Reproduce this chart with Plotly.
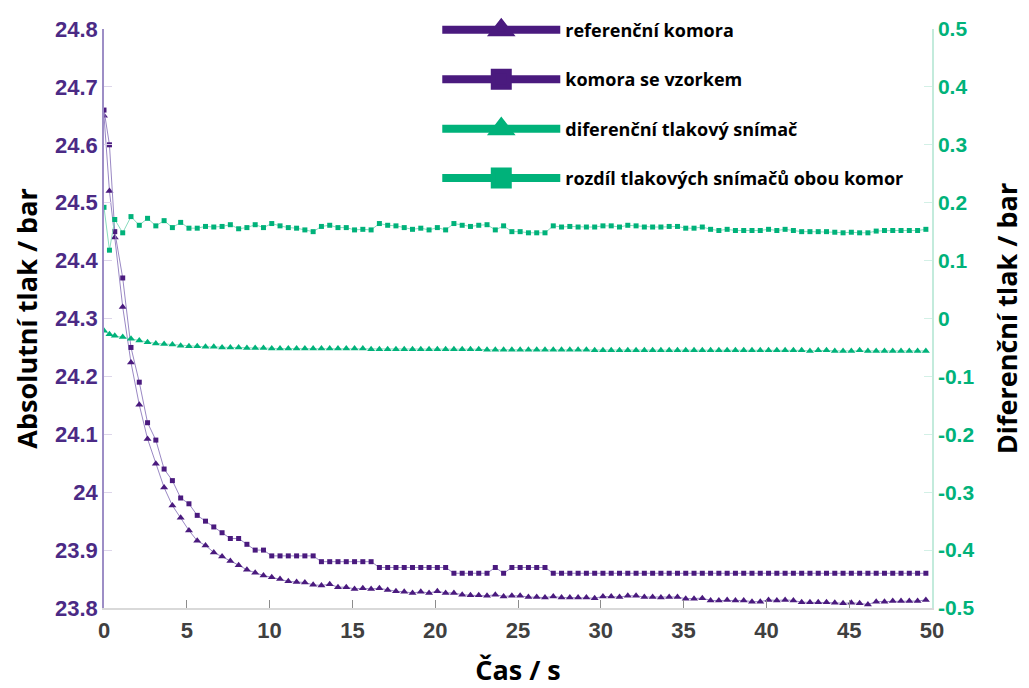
import plotly.graph_objects as go

# ---------------- data ----------------
time_s = [0, 0.33, 0.65, 1.13, 1.63, 2.13, 2.63, 3.13, 3.63, 4.13, 4.63, 5.13, 5.63, 6.13, 6.63,
          7.13, 7.63, 8.13, 8.63, 9.13, 9.63, 10.13, 10.63, 11.13, 11.63, 12.13, 12.63, 13.13,
          13.63, 14.13, 14.63, 15.13, 15.63, 16.13, 16.63, 17.13, 17.63, 18.13, 18.63, 19.13,
          19.63, 20.13, 20.63, 21.13, 21.63, 22.13, 22.63, 23.13, 23.63, 24.13, 24.63, 25.13,
          25.63, 26.13, 26.63, 27.13, 27.63, 28.13, 28.63, 29.13, 29.63, 30.13, 30.63, 31.13,
          31.63, 32.13, 32.63, 33.13, 33.63, 34.13, 34.63, 35.13, 35.63, 36.13, 36.63, 37.13,
          37.63, 38.13, 38.63, 39.13, 39.63, 40.13, 40.63, 41.13, 41.63, 42.13, 42.63, 43.13,
          43.63, 44.13, 44.63, 45.13, 45.63, 46.13, 46.63, 47.13, 47.63, 48.13, 48.63, 49.13,
          49.63]

ref_chamber = [24.65, 24.52, 24.44, 24.32, 24.224, 24.151, 24.092, 24.049, 24.008, 23.977, 23.956,
               23.934, 23.916, 23.908, 23.896, 23.889, 23.881, 23.874, 23.866, 23.861, 23.856,
               23.853, 23.850, 23.846, 23.845, 23.844, 23.840, 23.839, 23.841, 23.836, 23.836,
               23.833, 23.834, 23.833, 23.834, 23.831, 23.829, 23.828, 23.826, 23.828, 23.826,
               23.829, 23.826, 23.826, 23.823, 23.822, 23.822, 23.821, 23.823, 23.820, 23.821,
               23.821, 23.819, 23.819, 23.818, 23.820, 23.818, 23.818, 23.818, 23.818, 23.817,
               23.820, 23.820, 23.819, 23.821, 23.821, 23.819, 23.819, 23.818, 23.819, 23.819,
               23.816, 23.816, 23.817, 23.813, 23.813, 23.814, 23.813, 23.813, 23.811, 23.811,
               23.814, 23.813, 23.814, 23.813, 23.810, 23.810, 23.810, 23.810, 23.809, 23.808,
               23.809, 23.808, 23.806, 23.811, 23.811, 23.812, 23.812, 23.812, 23.812, 23.814]

sample_chamber = [24.66, 24.60, 24.45, 24.37, 24.25, 24.19, 24.12, 24.09, 24.04, 24.02, 23.99,
                  23.98, 23.96, 23.95, 23.94, 23.93, 23.92, 23.92, 23.91, 23.90, 23.90,
                  23.89, 23.89, 23.89, 23.89, 23.89, 23.89,
                  23.88, 23.88, 23.88, 23.88, 23.88, 23.88, 23.88,
                  23.87, 23.87, 23.87, 23.87, 23.87, 23.87, 23.87, 23.87, 23.87,
                  23.86, 23.86, 23.86, 23.86, 23.86,
                  23.87, 23.86,
                  23.87, 23.87, 23.87, 23.87, 23.87,
                  23.86, 23.86, 23.86, 23.86, 23.86, 23.86, 23.86, 23.86, 23.86, 23.86,
                  23.86, 23.86, 23.86, 23.86, 23.86, 23.86, 23.86, 23.86, 23.86, 23.86,
                  23.86, 23.86, 23.86, 23.86, 23.86, 23.86, 23.86, 23.86, 23.86, 23.86,
                  23.86, 23.86, 23.86, 23.86, 23.86, 23.86, 23.86, 23.86, 23.86, 23.86,
                  23.86, 23.86, 23.86, 23.86, 23.86, 23.86]

diff_sensor = [-0.021, -0.027, -0.030, -0.032, -0.035, -0.038, -0.041, -0.043, -0.044, -0.045,
               -0.047, -0.048, -0.048, -0.049, -0.049, -0.050, -0.050, -0.050, -0.051, -0.051,
               -0.051, -0.052, -0.052, -0.052, -0.052, -0.052, -0.052, -0.052, -0.052, -0.052,
               -0.052, -0.052, -0.052, -0.053, -0.053, -0.053, -0.053, -0.053, -0.053, -0.053,
               -0.053, -0.053, -0.053, -0.053, -0.053, -0.053, -0.053, -0.054, -0.054, -0.054,
               -0.054, -0.054, -0.054, -0.054, -0.054, -0.054, -0.054, -0.054, -0.054, -0.054,
               -0.055, -0.055, -0.055, -0.055, -0.055, -0.055, -0.055, -0.055, -0.055, -0.055,
               -0.055, -0.055, -0.055, -0.055, -0.055, -0.055, -0.055, -0.055, -0.055, -0.055,
               -0.055, -0.055, -0.055, -0.055, -0.055, -0.055, -0.056, -0.055, -0.055, -0.056,
               -0.056, -0.056, -0.055, -0.056, -0.056, -0.056, -0.056, -0.056, -0.056, -0.056,
               -0.056]

sensor_difference = [0.192, 0.118, 0.171, 0.148, 0.176, 0.161, 0.173, 0.160, 0.169, 0.157, 0.166,
                     0.156, 0.156, 0.159, 0.158, 0.159, 0.162, 0.155, 0.157, 0.162, 0.157, 0.164,
                     0.160, 0.157, 0.156, 0.153, 0.150, 0.159, 0.161, 0.157, 0.157, 0.153, 0.154,
                     0.153, 0.164, 0.161, 0.160, 0.157, 0.154, 0.156, 0.153, 0.157, 0.153, 0.164,
                     0.161, 0.159, 0.161, 0.162, 0.153, 0.160, 0.150, 0.150, 0.148, 0.148, 0.148,
                     0.160, 0.158, 0.159, 0.158, 0.158, 0.158, 0.160, 0.160, 0.158, 0.161, 0.160,
                     0.158, 0.158, 0.158, 0.159, 0.159, 0.156, 0.156, 0.158, 0.154, 0.152, 0.154,
                     0.152, 0.152, 0.152, 0.152, 0.154, 0.152, 0.154, 0.152, 0.150, 0.150, 0.150,
                     0.150, 0.149, 0.148, 0.149, 0.148, 0.148, 0.151, 0.152, 0.152, 0.152, 0.152,
                     0.152, 0.154]

for _name, _arr in [("ref", ref_chamber), ("sample", sample_chamber),
                    ("diff", diff_sensor), ("sdiff", sensor_difference)]:
    if len(_arr) != len(time_s):
        raise ValueError(f"{_name}: {len(_arr)} != {len(time_s)}")

series_names = ["referenční komora", "komora se vzorkem",
                "diferenční tlakový snímač", "rozdíl tlakových snímačů obou komor"]

x_ticks = [0, 5, 10, 15, 20, 25, 30, 35, 40, 45, 50]
left_tickvals = [23.8, 23.9, 24.0, 24.1, 24.2, 24.3, 24.4, 24.5, 24.6, 24.7, 24.8]
left_ticktext = ["23.8", "23.9", "24", "24.1", "24.2", "24.3", "24.4", "24.5", "24.6", "24.7", "24.8"]
right_tickvals = [-0.5, -0.4, -0.3, -0.2, -0.1, 0, 0.1, 0.2, 0.3, 0.4, 0.5]
right_ticktext = ["-0.5", "-0.4", "-0.3", "-0.2", "-0.1", "0", "0.1", "0.2", "0.3", "0.4", "0.5"]

# ---------------- style ----------------
PURPLE = "#4a1a7e"
PURPLE_LINE = "#9a88c4"
GREEN = "#00b27a"
GREEN_LINE = "#8adcbf"

fig = go.Figure()

fig.add_trace(go.Scatter(x=time_s, y=ref_chamber, mode="lines+markers", showlegend=False,
                         line=dict(color=PURPLE_LINE, width=1),
                         marker=dict(symbol="triangle-up", size=7, color=PURPLE)))
fig.add_trace(go.Scatter(x=time_s, y=sample_chamber, mode="lines+markers", showlegend=False,
                         line=dict(color=PURPLE_LINE, width=1),
                         marker=dict(symbol="square", size=5, color=PURPLE)))
fig.add_trace(go.Scatter(x=time_s, y=diff_sensor, mode="lines+markers", showlegend=False,
                         yaxis="y2", line=dict(color=GREEN_LINE, width=1),
                         marker=dict(symbol="triangle-up", size=7, color=GREEN)))
fig.add_trace(go.Scatter(x=time_s, y=sensor_difference, mode="lines+markers", showlegend=False,
                         yaxis="y2", line=dict(color=GREEN_LINE, width=1),
                         marker=dict(symbol="square", size=5, color=GREEN)))

# legend-only entries with large symbols
legend_styles = [("triangle-up", PURPLE), ("square", PURPLE),
                 ("triangle-up", GREEN), ("square", GREEN)]
for i, (name, (sym, col)) in enumerate(zip(series_names, legend_styles)):
    fig.add_trace(go.Scatter(x=[None], y=[None], mode="lines+markers", name=name,
                             legendgroup=f"g{i}",
                             line=dict(color=col, width=8),
                             marker=dict(symbol=sym, size=16, color=col,
                                         line=dict(color=col, width=5))))

TITLE_FONT = dict(family="Open Sans", size=27, color="#000000", weight="bold")

fig.update_layout(
    width=1021, height=680,
    margin=dict(l=96, r=97, t=21, b=80, autoexpand=False),
    paper_bgcolor="white", plot_bgcolor="white",
    font=dict(family="Liberation Sans"),
    xaxis=dict(range=[0, 50], tickvals=x_ticks, ticks="inside", ticklen=8, tickwidth=1,
               tickcolor="#8c8c8c", showline=True, linecolor="#d9d9d9", linewidth=1.5,
               showgrid=False, zeroline=False, automargin=False, ticklabelstandoff=2,
               tickfont=dict(family="Liberation Sans", size=22, color="#404040", weight="bold"),
               title=dict(text="Čas / s", font=TITLE_FONT, standoff=22)),
    yaxis=dict(range=[23.8, 24.8], tickvals=left_tickvals, ticktext=left_ticktext,
               ticks="inside", ticklen=8, tickcolor="#ddd6ea", showline=True,
               linecolor="#9d8ec6", linewidth=1.5, showgrid=False, zeroline=False,
               automargin=False,
               tickfont=dict(family="Liberation Sans", size=22, color="#4b2a85", weight="bold"),
               title=dict(text="Absolutní tlak / bar", font=TITLE_FONT, standoff=14)),
    yaxis2=dict(range=[-0.5, 0.5], tickvals=right_tickvals, ticktext=right_ticktext,
                overlaying="y", side="right", ticks="inside", ticklen=8,
                tickcolor="#d3f0e6", showline=True, linecolor="#c3ebdc", linewidth=1.5,
                showgrid=False, zeroline=False, automargin=False,
                tickfont=dict(family="Liberation Sans", size=21, color="#00b27a", weight="bold"),
                title=dict(text="Diferenční tlak / bar", font=TITLE_FONT, standoff=25)),
    legend=dict(x=0.4025, y=1.03, xanchor="left", yanchor="top", itemwidth=118,
                traceorder="grouped", tracegroupgap=23, bgcolor="rgba(0,0,0,0)",
                itemsizing="trace",
                font=dict(family="Open Sans", size=18, color="#000000", weight="bold")),
)

fig.write_html("out.html")
